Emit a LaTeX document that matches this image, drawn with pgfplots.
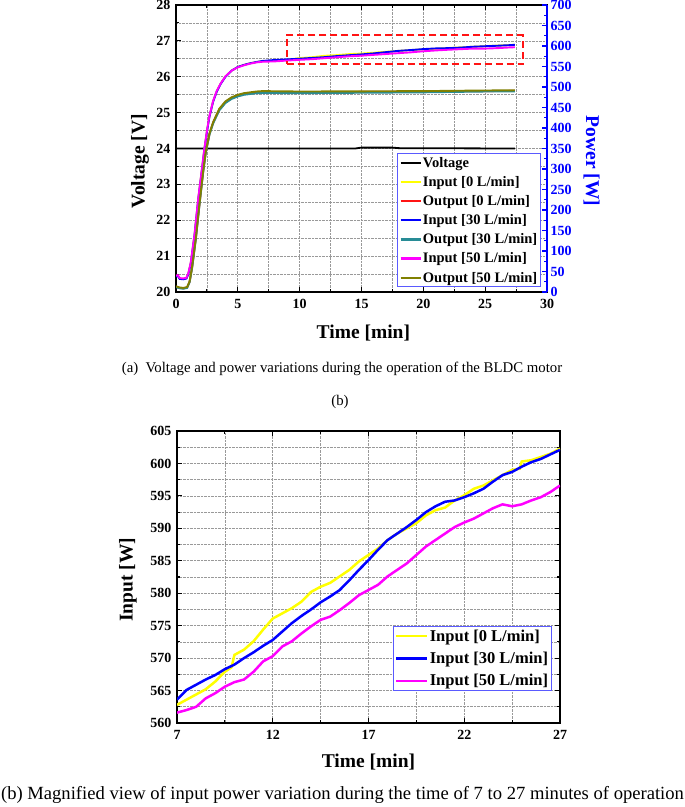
\documentclass[border=0pt]{standalone}
\usepackage{fontspec}
\setmainfont{Liberation Serif}
\usepackage{pgfplots}
\pgfplotsset{compat=1.18}
\definecolor{myyellow}{RGB}{255,255,0}
\definecolor{myred}{RGB}{255,20,20}
\definecolor{myblue}{RGB}{0,0,255}
\definecolor{myteal}{RGB}{40,140,150}
\definecolor{mymag}{RGB}{255,0,255}
\definecolor{myolive}{RGB}{128,128,0}
\definecolor{legblue}{RGB}{90,90,255}
\pgfplotsset{
  mystyle/.style={
    scale only axis,
    /pgf/number format/assume math mode=true,
    ticklabel style={font=\fontsize{14}{14}\selectfont\bfseries},
    xticklabel style={yshift=-4pt},
    yticklabel style={xshift=-2pt},
    label style={font=\fontsize{19.5}{19.5}\selectfont\bfseries},
    tick align=inside,
    major tick length=5pt, minor tick length=3pt,
    axis line style={line width=1.6pt},
    tick style={line width=1.1pt, black},
    grid=both,
    grid style={densely dotted, gray!80, line width=0.7pt},
    legend cell align=left,
  }
}
\begin{document}
\begin{tikzpicture}[x=1pt,y=1pt]
\path[use as bounding box] (0,0) rectangle (685,-807);

% ---------- top: voltage ----------
\begin{axis}[mystyle,
  at={(176pt,-292pt)}, anchor=south west, width=371pt, height=287pt,
  xmin=0, xmax=30, ymin=20, ymax=28,
  xtick={0,5,...,30}, minor x tick num=1,
  ytick={20,21,...,28}, minor y tick num=1,
  ytick pos=left,
  xlabel={Time [min]}, ylabel={Voltage [V]},
  xlabel style={at={(axis description cs:0.505,-0.143)}, anchor=center},
  ylabel style={at={(axis description cs:-0.097,0.456)}, anchor=center},
]
\addplot[black, line width=1.8pt] coordinates {(0,24.0)(14.5,24.0)(15,24.025)(17.5,24.025)(18,24.01)(27.4,24.0)};
\end{axis}

% ---------- top: power ----------
\begin{axis}[mystyle,
  at={(176pt,-292pt)}, anchor=south west, width=371pt, height=287pt,
  xmin=0, xmax=30, ymin=0, ymax=700,
  axis x line=none, axis y line*=right, grid=none,
  ytick={0,50,...,700}, minor y tick num=1,
  y axis line style={blue, line width=1.6pt},
  ytick style={blue, line width=1.1pt},
  yticklabel style={blue, xshift=2pt},
  ylabel={Power [W]},
  ylabel style={blue, rotate=180, at={(axis description cs:1.12,0.456)}, anchor=center},
  legend style={at={(0.596,0.017)}, anchor=south west, draw=legblue, line width=0.8pt,
    fill=white, font=\fontsize{14.5}{14.5}\selectfont\bfseries,
    nodes={inner sep=1.2pt}, row sep=5.2pt, inner sep=2pt},
  legend image code/.code={\draw[#1, line width=2.2pt] (0pt,0pt) -- (20pt,0pt);},
]
\addlegendimage{black}
\addlegendentry{Voltage}
% Input 0 L/min
\addplot[myyellow, line width=1.9pt] coordinates {
(0,39)(0.15,40)(0.3,33)(0.6,32)(0.85,34)(1.0,45)(1.2,72)(1.5,140)(1.8,228)(2.1,300)(2.3,350)(2.5,392)(2.7,428)(3.0,465)(3.3,490)(3.6,508)(4.0,526)(4.5,540)(5.0,549)(5.5,554)(6.0,558)(6.5,561)
(7,563)(8,564.4)(9,566.4)(10,570.5)(11,572.6)(12,576.1)(13,577.7)(14,580.2)(15,581.6)(16,583.6)(17,585.9)(18,588.2)(19,590)(20,592)(21,593.2)(22,595.1)(23,596.6)(24,598.2)(25,599.7)(26,601)(27,602.3)(27.4,603)};
\addlegendentry{Input [0 L/min]}
% Output 0 L/min
\addplot[myred, line width=1.9pt] coordinates {
(0,13)(0.3,10)(0.6,9)(0.9,11)(1.1,25)(1.3,60)(1.6,130)(1.9,215)(2.2,295)(2.4,340)(2.7,385)(3.0,413)(3.5,445)(4.0,463)(4.5,473)(5.0,479)(5.5,483)(6.0,485)(6.5,487)(7,487.5)(10,487)(15,488)(20,489)(25,490)(27.4,490.5)};
\addlegendentry{Output [0 L/min]}
% Input 30 L/min
\addplot[myblue, line width=1.9pt] coordinates {
(0,38)(0.15,39)(0.3,32)(0.6,31)(0.85,33)(1.0,44)(1.2,70)(1.5,138)(1.8,226)(2.1,298)(2.3,348)(2.5,390)(2.7,427)(3.0,464)(3.3,489)(3.6,507)(4.0,525)(4.5,540)(5.0,549)(5.5,554)(6.0,558)(6.5,561)
(7,563.6)(8,565.9)(9,567.4)(10,569)(11,570.9)(12,572.8)(13,575.4)(14,577.5)(15,579.5)(16,582)(17,585.1)(18,588.2)(19,590.2)(20,592.5)(21,594.1)(22,594.8)(23,596.1)(24,598.2)(25,599.5)(26,600.7)(27,602.1)(27.4,603)};
\addlegendentry{Input [30 L/min]}
% Output 30 L/min
\addplot[myteal, line width=1.9pt] coordinates {
(0,12)(0.3,9)(0.6,8)(0.9,10)(1.1,24)(1.3,58)(1.6,128)(1.9,213)(2.2,293)(2.4,338)(2.7,383)(3.0,411)(3.5,443)(4.0,461)(4.5,471)(5.0,477)(5.5,481)(6.0,483)(6.5,485)(7,485.5)(10,485)(15,486)(20,487)(25,489)(27.4,489.5)};
\addlegendentry{Output [30 L/min]}
% Input 50 L/min
\addplot[mymag, line width=1.9pt] coordinates {
(0,40)(0.15,41)(0.3,34)(0.6,33)(0.85,35)(1.0,46)(1.2,73)(1.5,141)(1.8,229)(2.1,301)(2.3,351)(2.5,393)(2.7,429)(3.0,466)(3.3,491)(3.6,508)(4.0,526)(4.5,540)(5.0,548)(5.5,553)(6.0,557)(6.5,560)
(7,561.6)(8,562.5)(9,564.6)(10,566.3)(11,567.9)(12,570.3)(13,572.6)(14,574.9)(15,576.4)(16,578.5)(17,580.5)(18,582.6)(19,584.6)(20,587.2)(21,589.2)(22,590.9)(23,592.3)(24,593.7)(25,593.7)(26,594.8)(27,596.6)(27.4,597)};
\addlegendentry{Input [50 L/min]}
% Output 50 L/min
\addplot[myolive, line width=1.9pt] coordinates {
(0,14)(0.3,11)(0.6,10)(0.9,12)(1.1,26)(1.3,61)(1.6,131)(1.9,216)(2.2,296)(2.4,341)(2.7,386)(3.0,414)(3.5,447)(4.0,465)(4.5,475)(5.0,481)(5.5,485)(6.0,487)(6.5,489)(7,490)(10,489)(15,489.5)(20,490)(25,491.5)(27.4,492)};
\addlegendentry{Output [50 L/min]}
% dashed highlight box
\addplot[myred, line width=2.2pt, dash pattern=on 7pt off 4pt, forget plot] coordinates {
(8.95,555.5)(28.06,555.5)(28.06,626.5)(8.95,626.5)(8.95,555.5)};
\end{axis}

\node[font=\fontsize{14.8}{14.8}\selectfont] at (342,-369) {(a)\ \ Voltage and power variations during the operation of the BLDC motor};
\node[font=\fontsize{14.8}{14.8}\selectfont] at (340,-402) {(b)};

% ---------- bottom: magnified ----------
\begin{axis}[mystyle,
  at={(177pt,-723pt)}, anchor=south west, width=383pt, height=292pt,
  xmin=7, xmax=27, ymin=560, ymax=605,
  xtick={7,12,...,27}, minor x tick num=1,
  ytick={560,565,...,605}, minor y tick num=1,
  xlabel={Time [min]}, ylabel={Input [W]},
  xlabel style={at={(axis description cs:0.5,-0.134)}, anchor=center},
  ylabel style={at={(axis description cs:-0.128,0.49)}, anchor=center},
  legend style={at={(0.564,0.11)}, anchor=south west, draw=legblue, line width=0.8pt,
    fill=white, font=\fontsize{16.5}{16.5}\selectfont\bfseries,
    nodes={inner sep=1.5pt}, row sep=6.5pt, inner sep=1.5pt},
  legend image code/.code={\draw[#1, line width=2.4pt] (0pt,0pt) -- (31pt,0pt);},
]
\addplot[myyellow, line width=2.5pt] coordinates {
(7,562.8)(7.5,563.6)(8,564.4)(8.5,565.2)(9,566.4)(9.5,567.9)(9.85,568.6)(10,570.5)(10.5,571.3)(11,572.6)(11.5,574.4)(12,576.1)(12.5,576.9)(13,577.7)(13.5,578.7)(14,580.2)(14.5,581)(15,581.6)(15.5,582.6)(16,583.6)(16.5,584.9)(17,585.9)(17.5,586.9)(18,588.2)(18.5,589.2)(19,590)(19.5,590.8)(20,592)(20.5,592.8)(21,593.2)(21.5,594.3)(22,595.1)(22.5,596.1)(23,596.6)(23.5,597.4)(24,598.2)(24.5,599)(24.9,599.2)(25,600.3)(25.5,600.5)(26,601)(26.5,601.5)(27,602.3)};
\addlegendentry{Input [0 L/min]}
\addplot[myblue, line width=2.5pt] coordinates {
(7,563.6)(7.5,565.1)(8,565.9)(8.5,566.7)(9,567.4)(9.5,568.3)(10,569)(10.5,570)(11,570.9)(11.5,571.9)(12,572.8)(12.5,574.1)(13,575.4)(13.5,576.5)(14,577.5)(14.5,578.6)(15,579.5)(15.5,580.5)(16,582)(16.5,583.6)(17,585.1)(17.5,586.7)(18,588.2)(18.5,589.2)(19,590.2)(19.5,591.3)(20,592.5)(20.5,593.4)(21,594.1)(21.5,594.3)(22,594.8)(22.5,595.4)(23,596.1)(23.5,597.2)(24,598.2)(24.5,598.7)(25,599.5)(25.5,600.2)(26,600.7)(26.5,601.4)(27,602.1)};
\addlegendentry{Input [30 L/min]}
\addplot[mymag, line width=2.5pt] coordinates {
(7,561.6)(7.5,562)(8,562.5)(8.5,563.8)(9,564.6)(9.5,565.6)(10,566.3)(10.5,566.7)(11,567.9)(11.5,569.5)(12,570.3)(12.5,571.8)(13,572.6)(13.5,573.8)(14,574.9)(14.5,575.9)(15,576.4)(15.5,577.4)(16,578.5)(16.5,579.7)(17,580.5)(17.5,581.3)(18,582.6)(18.5,583.6)(19,584.6)(19.5,585.9)(20,587.2)(20.5,588.2)(21,589.2)(21.5,590.2)(22,590.9)(22.5,591.5)(23,592.3)(23.5,593.1)(24,593.7)(24.5,593.4)(25,593.7)(25.5,594.3)(26,594.8)(26.5,595.6)(27,596.6)};
\addlegendentry{Input [50 L/min]}
\end{axis}

\node[font=\fontsize{18.6}{18.6}\selectfont] at (342.5,-795) {(b) Magnified view of input power variation during the time of 7 to 27 minutes of operation};
\end{tikzpicture}
\end{document}
